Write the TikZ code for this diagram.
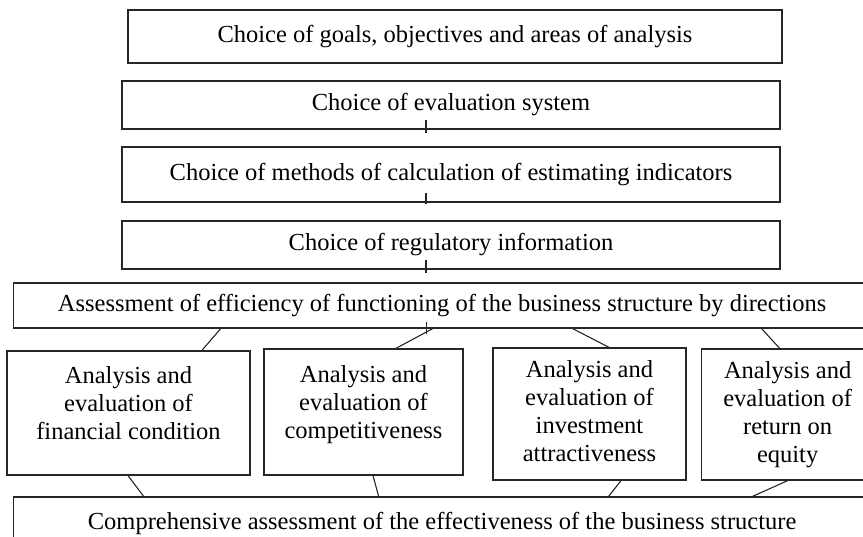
\documentclass[tikz,border=0pt]{standalone}
\usepackage{fontspec}
\setmainfont{Liberation Serif}
\usetikzlibrary{calc}

\begin{document}
\begin{tikzpicture}[x=1pt,y=1pt]

\tikzstyle{stage} = [draw, line width=1.3, draw=black!85, fill=white, inner sep=0,
font=\fontsize{24.5}{28}\selectfont]
\tikzstyle{link} = [line width=1.1, draw=black!85]

\useasboundingbox (0,0) rectangle (863,537);
\clip (0,0) rectangle (863,537);

\node [stage, minimum width=654, minimum height=53] (goals) at (455,500.5) {Choice of goals, objectives and areas of analysis};

\node [stage, minimum width=658, minimum height=48] (evalsys) at (451,432) {Choice of evaluation system};

\node [stage, minimum width=658, minimum height=55] (methods) at (451,362.5) {Choice of methods of calculation of estimating indicators};

\node [stage, minimum width=658, minimum height=48] (regul) at (451,292) {Choice of regulatory information};

\node [stage, anchor=west, minimum width=857, minimum height=45] (assess) at (13,231.5) {Assessment of efficiency of functioning of the business structure by directions};



\node [stage, minimum width=243, minimum height=124] (fin) at (128.5,124) {\begin{tabular}{c} Analysis and\\ evaluation of\\ financial condition\\[-14pt] \mbox{}\end{tabular}};

\node [stage, minimum width=199, minimum height=126] (comp) at (363.5,125) {\begin{tabular}{c} Analysis and\\ evaluation of\\ competitiveness\\[-14pt] \mbox{}\end{tabular}};

\node [stage, minimum width=193, minimum height=132] (invest) at (589.5,123) {\begin{tabular}{c} Analysis and\\ evaluation of\\ investment\\ attractiveness\end{tabular}};

\node [stage, anchor=west, minimum width=172, minimum height=131] (equity) at (701,122.5) {\begin{tabular}{c} Analysis and\\ evaluation of\\ return on\\ equity\end{tabular}};

\node [stage, anchor=west, minimum width=857, minimum height=53] (compreh) at (13,13.5) {Comprehensive assessment of the effectiveness of the business structure};



 % short ticks under the upper boxes
\draw[link] ([xshift=-25,yshift=10]evalsys.south) -- ([xshift=-25,yshift=-3]evalsys.south);
\draw[link] ([xshift=-25,yshift=10]methods.south) -- ([xshift=-25,yshift=-1]methods.south);
\draw[link] ([xshift=-25,yshift=10]regul.south) -- ([xshift=-25,yshift=-3]regul.south);
\draw[link] ([xshift=-15.5,yshift=7]assess.south) -- ([xshift=-15.5,yshift=-5]assess.south);

 % to the four directions
\draw[link] ([xshift=-221.5]assess.south) -- ([xshift=73.5]fin.north);
\draw[link] ([xshift=-9.5]assess.south) -- ([xshift=32.5]comp.north);
\draw[link] ([xshift=130.5]assess.south) -- ([xshift=19.5]invest.north);
\draw[link] ([xshift=319.5]assess.south) -- ([xshift=-8]equity.north);

 % to the comprehensive assessment
\draw[link] ([xshift=-0.5]fin.south) -- ([xshift=-298.5]compreh.north);
\draw[link] ([xshift=9.5]comp.south) -- ([xshift=-63.5]compreh.north);
\draw[link] ([xshift=31.5]invest.south) -- ([xshift=166.5]compreh.north);
\draw[link] (equity.south) -- ([xshift=310.5]compreh.north);

\end{tikzpicture}
\end{document}
